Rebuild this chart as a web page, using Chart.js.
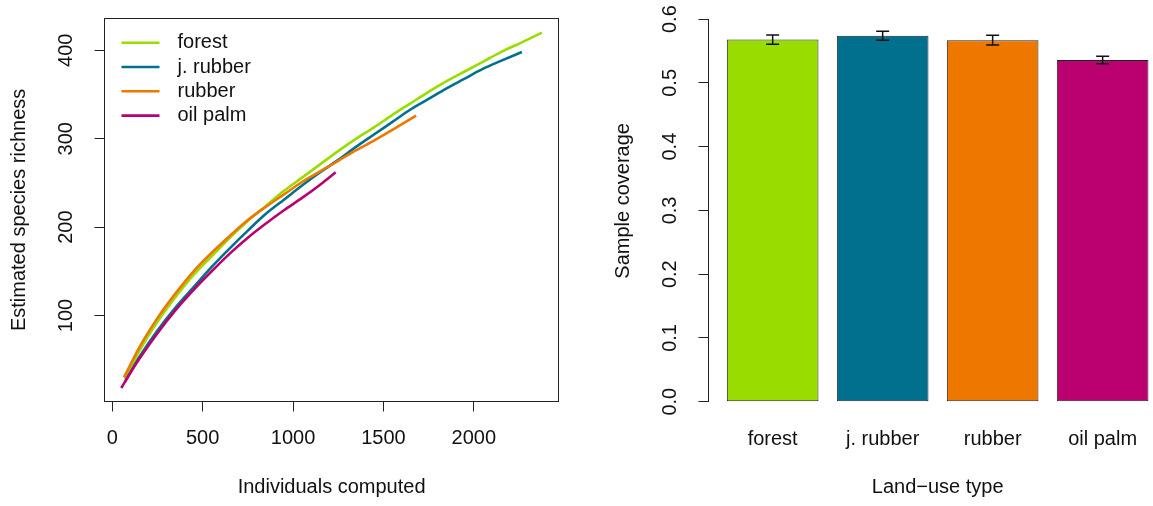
<!DOCTYPE html>
<html>
<head>
<meta charset="utf-8">
<script src="https://cdn.jsdelivr.net/npm/chart.js@4.4.1/dist/chart.umd.min.js"></script>
<style>
  html, body { margin:0; padding:0; background:#fff; overflow:hidden; width:1153px; height:506px; }
  canvas { position:absolute; top:0; }
  #curves { left:0; }
  #coverage { left:580px; }
</style>
</head>
<body>
<canvas id="curves" width="580" height="506"></canvas>
<canvas id="coverage" width="600" height="506"></canvas>
<script>
// rarefaction curves, [individuals, estimated species richness]
const forestCurve = [[70,28],[150,60],[250,93],[350,121],[450,146],[550,167],[650,188],[750,207],[850,224],[950,241],[1050,256],[1150,271],[1250,286],[1350,300],[1450,313],[1550,327],[1650,340],[1750,353],[1850,365],[1950,376],[2050,387],[2150,398],[2266,409],[2377,420]]
const jRubberCurve = [[70,25],[150,53],[250,83],[350,109],[450,132],[550,155],[650,176],[750,196],[850,215],[950,231],[1050,247],[1150,262],[1250,276],[1350,291],[1450,305],[1550,319],[1650,333],[1750,345],[1850,357],[1950,368],[2050,379],[2150,388],[2266,398]]
const rubberCurve = [[65,30],[150,64],[250,97],[350,125],[450,150],[550,171],[650,190],[750,208],[850,223],[950,237],[1050,251],[1150,263],[1250,275],[1350,287],[1450,298],[1550,310],[1681,326]]
const oilPalmCurve = [[50,18],[100,35],[150,51],[250,80],[350,106],[450,129],[550,150],[650,170],[750,188],[850,204],[950,219],[1050,233],[1150,248],[1236,262]]

const curves = [forestCurve, jRubberCurve, rubberCurve, oilPalmCurve]
const curveNames = ['forest', 'j. rubber', 'rubber', 'oil palm']
const curveColors = ['#99DD00', '#00708F', '#EE7700', '#BB0070']
const individualsTicks = [0, 500, 1000, 1500, 2000]
const richnessTicks = [100, 200, 300, 400]

// sample coverage per land-use type
const landUse = ['forest', 'j. rubber', 'rubber', 'oil palm']
const coverage = [0.568, 0.574, 0.567, 0.536]
const coverageErr = [0.0073, 0.0071, 0.0076, 0.0058]
const coverageTicks = [0, 0.1, 0.2, 0.3, 0.4, 0.5, 0.6]
const barColors = ['#99DD00', '#00708F', '#EE7700', '#BB0070']

const ink = '#222'
const fontFamily = '"Liberation Sans", Arial, Helvetica, sans-serif'
Chart.defaults.font.family = fontFamily
Chart.defaults.font.size = 20
Chart.defaults.color = '#111'

// R barplot layout: bars of width 1 with space 0.2
let barMid = (i) => 0.7 + 1.2 * i

// fixed axis box, no label overflow padding pushed into the layout
let fixAxis = (w, h) => (s) => {
    if (w != null) s.width = w
    if (h != null) s.height = h
    s.paddingLeft = 0
    s.paddingRight = 0
    s.paddingTop = 0
    s.paddingBottom = 0
}

let boxPlugin = {
    id: 'box',
    afterDraw: (chart) => {
        const {ctx, chartArea} = chart
        const l = Math.floor(chartArea.left) + 0.5
        const t = Math.floor(chartArea.top) + 0.5
        const r = Math.floor(chartArea.right) + 0.5
        const b = Math.floor(chartArea.bottom) + 0.5
        ctx.save()
        ctx.strokeStyle = ink
        ctx.lineWidth = 1
        ctx.strokeRect(l, t, r - l, b - t)
        ctx.restore()
    }
}

let legendPlugin = {
    id: 'curveLegend',
    afterDraw: (chart) => {
        const {ctx, chartArea} = chart
        ctx.save()
        ctx.font = '20px ' + fontFamily
        ctx.textBaseline = 'middle'
        chart.data.datasets.forEach((ds, i) => {
            let x = chartArea.left + 17
            let y = chartArea.top + 24.4 + i * 24.3
            ctx.strokeStyle = ds.borderColor
            ctx.lineWidth = 2.6
            ctx.beginPath()
            ctx.moveTo(x, y)
            ctx.lineTo(x + 38, y)
            ctx.stroke()
            ctx.fillStyle = '#111'
            ctx.fillText(ds.label, x + 56, y)
        })
        ctx.restore()
    }
}

let coverageMarks = {
    id: 'coverageMarks',
    afterDatasetsDraw: (chart) => {
        const {ctx, chartArea, scales} = chart
        const y = scales.y
        const meta = chart.getDatasetMeta(0)
        ctx.save()
        ctx.strokeStyle = '#111'
        ctx.lineWidth = 1.5
        meta.data.forEach((bar, i) => {
            let hi = y.getPixelForValue(coverage[i] + coverageErr[i])
            let lo = y.getPixelForValue(coverage[i] - coverageErr[i])
            ctx.beginPath()
            ctx.moveTo(bar.x, hi); ctx.lineTo(bar.x, lo)
            ctx.moveTo(bar.x - 6.5, hi); ctx.lineTo(bar.x + 6.5, hi)
            ctx.moveTo(bar.x - 6.5, lo); ctx.lineTo(bar.x + 6.5, lo)
            ctx.stroke()
        })
        // axis line runs from first to last tick, like R
        let ax = Math.floor(chartArea.left) + 0.5
        ctx.strokeStyle = ink
        ctx.lineWidth = 1
        ctx.beginPath()
        ctx.moveTo(ax, y.getPixelForValue(coverageTicks[0]))
        ctx.lineTo(ax, y.getPixelForValue(coverageTicks[coverageTicks.length - 1]))
        ctx.stroke()
        ctx.restore()
    }
}

// left: rarefaction curves
new Chart(document.getElementById('curves'), {
    type: 'line',
    data: {
        datasets: curves.map((c, i) => ({
            label: curveNames[i],
            data: c.map(p => ({x: p[0], y: p[1]})),
            borderColor: curveColors[i],
            borderWidth: 2.6,
            pointRadius: 0,
            fill: false,
            cubicInterpolationMode: 'monotone',
            order: curves.length - i
        }))
    },
    options: {
        responsive: false,
        animation: false,
        events: [],
        layout: {padding: {top: 18.3, right: 21.3, bottom: 0, left: 0}},
        plugins: {legend: {display: false}, tooltip: {enabled: false}},
        scales: {
            x: {
                type: 'linear', min: -43, max: 2470,
                afterFit: fixAxis(null, 104.5),
                afterBuildTicks: (s) => { s.ticks = individualsTicks.map(v => ({value: v})) },
                grid: {drawOnChartArea: false, tickLength: 10, color: ink},
                border: {display: false},
                ticks: {padding: 14.5, maxRotation: 0, autoSkip: false, callback: (v) => String(v)},
                title: {display: true, text: 'Individuals computed', padding: {top: 0, bottom: 6.5}}
            },
            y: {
                type: 'linear', min: 2.7, max: 436.2,
                afterFit: fixAxis(104.5, null),
                afterBuildTicks: (s) => { s.ticks = richnessTicks.map(v => ({value: v})) },
                grid: {drawOnChartArea: false, tickLength: 10, color: ink},
                border: {display: false},
                ticks: {padding: 11.6, minRotation: 90, maxRotation: 90, crossAlign: 'center', autoSkip: false, callback: (v) => String(v)},
                title: {display: true, text: 'Estimated species richness', padding: {top: 7.5, bottom: 0}}
            }
        }
    },
    plugins: [boxPlugin, legendPlugin]
})

// right: sample coverage bars
new Chart(document.getElementById('coverage'), {
    type: 'bar',
    data: {
        datasets: [{
            label: 'Sample coverage',
            data: landUse.map((c, i) => ({x: barMid(i), y: coverage[i]})),
            backgroundColor: barColors,
            borderColor: ink,
            borderWidth: 1,
            borderSkipped: false,
            barPercentage: 1 / 1.2,
            categoryPercentage: 1
        }]
    },
    options: {
        responsive: false,
        animation: false,
        events: [],
        layout: {padding: {top: 0, right: 13.2, bottom: 0, left: 0}},
        plugins: {legend: {display: false}, tooltip: {enabled: false}},
        scales: {
            x: {
                type: 'linear', min: 0, max: 5, offset: false,
                afterFit: fixAxis(null, 104.3),
                afterBuildTicks: (s) => { s.ticks = landUse.map((c, i) => ({value: barMid(i)})) },
                grid: {display: false, drawTicks: false, offset: false},
                border: {display: false},
                ticks: {padding: 25.3, maxRotation: 0, autoSkip: false, callback: (v, i) => landUse[i]},
                title: {display: true, text: 'Land\u2212use type', padding: {top: 0, bottom: 6.5}}
            },
            y: {
                type: 'linear', min: 0, max: 0.63,
                afterFit: fixAxis(128.5, null),
                afterBuildTicks: (s) => { s.ticks = coverageTicks.map(v => ({value: v})) },
                grid: {drawOnChartArea: false, tickLength: 10, color: ink},
                border: {display: false},
                ticks: {padding: 14.6, minRotation: 90, maxRotation: 90, crossAlign: 'center', autoSkip: false, callback: (v) => v.toFixed(1)},
                title: {display: true, text: 'Sample coverage', padding: {top: 31, bottom: 0}}
            }
        }
    },
    plugins: [coverageMarks]
})
</script>
</body>
</html>
